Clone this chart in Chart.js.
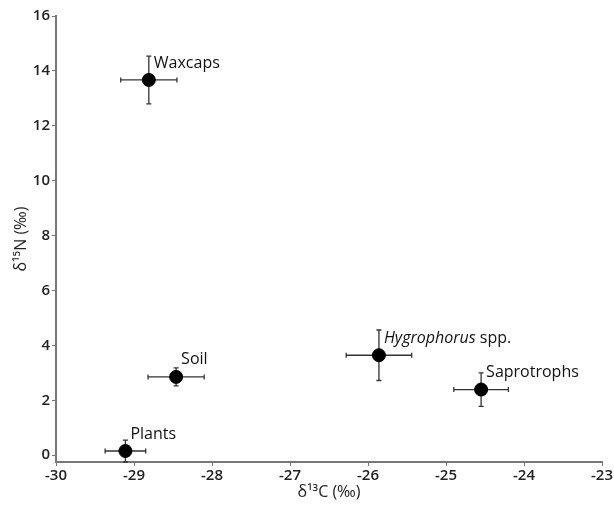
<!DOCTYPE html>
<html>
<head>
<meta charset="utf-8">
<script src="https://cdn.jsdelivr.net/npm/chart.js@4.4.1/dist/chart.umd.min.js"></script>
<style>
  html, body { margin: 0; padding: 0; background: #fff; }
  #wrap { width: 614px; height: 510px; }
</style>
</head>
<body>
<div id="wrap"><canvas id="chart"></canvas></div>
<script>
// данные
const groups = ["Waxcaps", "Soil", "Plants", "Hygrophorus", "Saprotrophs"];
const d13C = [-28.81, -28.46, -29.11, -25.86, -24.55];
const d15N = [13.67, 2.85, 0.15, 3.64, 2.39];
const errC = [0.36, 0.36, 0.26, 0.42, 0.35];
const errN = [0.87, 0.33, 0.40, 0.92, 0.61];
const xTicks = [-30, -29, -28, -27, -26, -25, -24, -23];
const yTicks = [0, 2, 4, 6, 8, 10, 12, 14, 16];

const font = "'Open Sans', sans-serif";

// усы погрешностей
const errorBars = {
    id: "errorBars",
    beforeDatasetsDraw(chart) {
        const { ctx, scales: { x, y } } = chart;
        ctx.save();
        ctx.strokeStyle = "#333";
        ctx.lineWidth = 1.3;
        const cap = 2.5;
        d13C.forEach((cx, i) => {
            const px = x.getPixelForValue(cx);
            const py = y.getPixelForValue(d15N[i]);
            const x0 = x.getPixelForValue(cx - errC[i]);
            const x1 = x.getPixelForValue(cx + errC[i]);
            const y0 = y.getPixelForValue(d15N[i] + errN[i]);
            const y1 = Math.min(y.getPixelForValue(d15N[i] - errN[i]), chart.chartArea.bottom);
            ctx.beginPath();
            ctx.moveTo(x0, py); ctx.lineTo(x1, py);
            ctx.moveTo(x0, py - cap); ctx.lineTo(x0, py + cap);
            ctx.moveTo(x1, py - cap); ctx.lineTo(x1, py + cap);
            ctx.moveTo(px, y0); ctx.lineTo(px, y1);
            ctx.moveTo(px - cap, y0); ctx.lineTo(px + cap, y0);
            ctx.moveTo(px - cap, y1); ctx.lineTo(px + cap, y1);
            ctx.stroke();
        });
        ctx.restore();
    }
};

// подписи точек
const pointLabels = {
    id: "pointLabels",
    afterDatasetsDraw(chart) {
        const { ctx, scales: { x, y } } = chart;
        ctx.save();
        ctx.fillStyle = "#111";
        ctx.textBaseline = "middle";
        ctx.textAlign = "left";
        groups.forEach((name, i) => {
            const px = x.getPixelForValue(d13C[i]) + 5;
            const py = y.getPixelForValue(d15N[i]) - 17;
            if (name === "Hygrophorus") {
                ctx.font = "italic 16px " + font;
                ctx.fillText(name, px, py);
                const w = ctx.measureText(name).width;
                ctx.font = "16px " + font;
                ctx.fillText(" spp.", px + w, py);
            } else {
                ctx.font = "16px " + font;
                ctx.fillText(name, px, py);
            }
        });
        ctx.restore();
    }
};

new Chart(document.getElementById("chart"), {
    type: "scatter",
    data: {
        datasets: [{
            label: "isotopes",
            data: d13C.map((v, i) => ({ x: v, y: d15N[i] })),
            backgroundColor: "#000",
            borderColor: "#000",
            pointRadius: 6.5,
            pointHoverRadius: 6.5,
        }]
    },
    options: {
        responsive: true,
        maintainAspectRatio: false,
        animation: false,
        layout: { padding: { top: 16, right: 11, left: 12, bottom: 8 } },
        plugins: {
            legend: { display: false },
            tooltip: { enabled: false },
        },
        scales: {
            x: {
                type: "linear",
                min: -30,
                max: -23,
                afterBuildTicks: (s) => { s.ticks = xTicks.map(v => ({ value: v })); },
                afterFit: (s) => { s.height = 40; },
                grid: { display: true, drawOnChartArea: false, tickLength: 4, color: "#777", lineWidth: 1 },
                border: { color: "#777", width: 2 },
                ticks: { color: "#222", font: { family: font, size: 15, weight: "600" }, padding: 1 },
                title: {
                    display: true,
                    text: "δ¹³C (‰)",
                    color: "#222",
                    font: { family: font, size: 16 },
                    padding: { top: 2, bottom: 0 },
                },
            },
            y: {
                type: "linear",
                min: -0.25,
                max: 16,
                afterBuildTicks: (s) => { s.ticks = yTicks.map(v => ({ value: v })); },
                afterFit: (s) => { s.width = 44; },
                grid: { display: true, drawOnChartArea: false, tickLength: 4, color: "#777", lineWidth: 1 },
                border: { color: "#777", width: 2 },
                ticks: { color: "#222", font: { family: font, size: 15, weight: "600" }, padding: 2 },
                title: {
                    display: true,
                    text: "δ¹⁵N (‰)",
                    color: "#222",
                    font: { family: font, size: 16 },
                    padding: { top: 0, bottom: 4 },
                },
            },
        },
    },
    plugins: [errorBars, pointLabels],
});
</script>
</body>
</html>
